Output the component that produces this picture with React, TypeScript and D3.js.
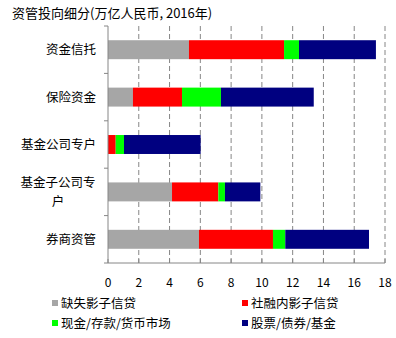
import React from "react";
import * as d3 from "d3";

const categories = ["资金信托", "保险资金", "基金公司专户", "基金子公司专户", "券商资管"];
const seriesNames = ["缺失影子信贷", "社融内影子信贷", "现金/存款/货币市场", "股票/债券/基金"];
const seriesColors = ["#A6A6A6", "#FF0000", "#00FF00", "#000080"];
// values per category, in series order
const missingShadow = [5.26, 1.62, 0, 4.16, 5.91];
const inTsfShadow = [6.18, 3.19, 0.5, 3.01, 4.81];
const cashDeposits = [0.97, 2.53, 0.54, 0.43, 0.8];
const stocksBonds = [5.0, 6.03, 4.98, 2.3, 5.44];
const xTicks = [0, 2, 4, 6, 8, 10, 12, 14, 16, 18];

const font = "'Noto Sans CJK SC', 'Noto Sans', sans-serif";

const App: React.FC = () => {
  const width = 396;
  const height = 338;
  const margin = { top: 26, left: 108, right: 11, bottom: 75 };
  const x = d3.scaleLinear().domain([0, 18]).range([margin.left, width - margin.right]);
  const y = d3
    .scaleBand<string>()
    .domain(categories)
    .range([margin.top, height - margin.bottom])
    .paddingInner(0.6)
    .paddingOuter(0.3);
  const step = y.step();

  const table = categories.map((c, i) => ({
    cat: c,
    vals: [missingShadow[i], inTsfShadow[i], cashDeposits[i], stocksBonds[i]],
  }));
  const stack = d3
    .stack<{ cat: string; vals: number[] }, number>()
    .keys([0, 1, 2, 3])
    .value((d, k) => d.vals[k]);
  const layers = stack(table);

  const bottom = height - margin.bottom;
  const bandTop = (i: number) => margin.top + i * step;

  const wrap = (s: string) => (s.length > 6 ? [s.slice(0, 6), s.slice(6)] : [s]);

  return (
    <svg width={width} height={height} style={{ position: "absolute", left: 0, top: 0, background: "#fff" }}>
      <text x={12} y={18} fontSize={13} fontFamily={font} fill="#000">
        资管投向细分(万亿人民币, 2016年)
      </text>

      {xTicks.slice(1).map((t) => (
        <line
          key={`g${t}`}
          x1={x(t)}
          x2={x(t)}
          y1={margin.top}
          y2={bottom}
          stroke="#868686"
          strokeWidth={1}
          strokeDasharray="5,3"
        />
      ))}

      {layers.map((layer, si) =>
        layer.map((d, ci) => (
          <rect
            key={`${si}-${ci}`}
            x={x(d[0])}
            y={y(categories[ci])!}
            width={Math.max(0, x(d[1]) - x(d[0]))}
            height={y.bandwidth()}
            fill={seriesColors[si]}
          />
        ))
      )}

      {/* axes */}
      <line x1={margin.left} x2={margin.left} y1={margin.top} y2={bottom} stroke="#868686" />
      <line x1={margin.left} x2={x(18)} y1={bottom} y2={bottom} stroke="#868686" />
      {d3.range(categories.length + 1).map((i) => (
        <line
          key={`yt${i}`}
          x1={margin.left - 4}
          x2={margin.left}
          y1={bandTop(i)}
          y2={bandTop(i)}
          stroke="#868686"
        />
      ))}
      {xTicks.map((t) => (
        <g key={`xt${t}`}>
          <line x1={x(t)} x2={x(t)} y1={bottom - 4} y2={bottom} stroke="#868686" />
          <text x={x(t)} y={bottom + 24} textAnchor="middle" fontSize={12} fontFamily={font} fill="#000">
            {t}
          </text>
        </g>
      ))}

      {categories.map((c) => {
        const lines = wrap(c);
        const cy = y(c)! + y.bandwidth() / 2;
        const lh = 18.5;
        return (
          <g key={c}>
            {lines.map((l, li) => (
              <text
                key={li}
                x={lines.length > 1 ? 58 : 96}
                textAnchor={lines.length > 1 ? "middle" : "end"}
                y={cy + 4.5 + (li - (lines.length - 1) / 2) * lh}
                fontSize={12.5}
                fontFamily={font}
                fill="#000"
              >
                {l}
              </text>
            ))}
          </g>
        );
      })}

      {seriesNames.map((n, i) => {
        const lx = i % 2 === 0 ? 52 : 242;
        const ly = i < 2 ? 303 : 323;
        return (
          <g key={n}>
            <rect x={lx} y={ly - 3} width={6} height={6} fill={seriesColors[i]} />
            <text x={lx + 9} y={ly + 4.5} fontSize={12.5} fontFamily={font} fill="#000">
              {n}
            </text>
          </g>
        );
      })}
    </svg>
  );
};

export default App;
